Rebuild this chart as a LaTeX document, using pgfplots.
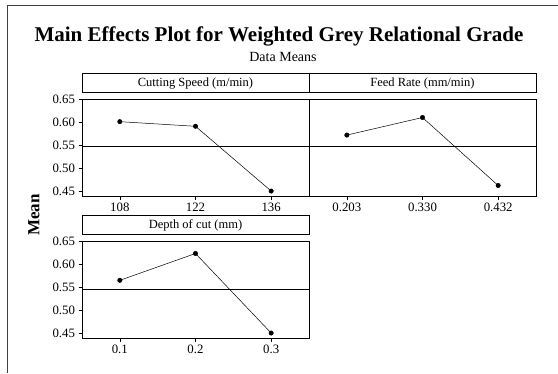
\documentclass[border=0pt]{standalone}
\usepackage{fontspec}
\setmainfont{Liberation Serif}
\usepackage{pgfplots}
\pgfplotsset{compat=1.18}

\pgfplotstableread{
x y
1 0.601
2 0.591
3 0.451
}\cuttingspeed
\pgfplotstableread{
x y
1 0.572
2 0.610
3 0.463
}\feedrate
\pgfplotstableread{
x y
1 0.565
2 0.623
3 0.451
}\depthofcut

\pgfplotsset{me/.style={
  scale only axis, width=227pt, height=97pt,
  xmin=0.5, xmax=3.5, ymin=0.4403, ymax=0.65,
  xtick={1,2,3}, ytick={0.45,0.50,0.55,0.60,0.65},
  tick align=outside, major tick length=3.5pt,
  tick style={black, line width=0.6pt},
  axis line style={line width=0.8pt},
  /pgf/number format/.cd, fixed, fixed zerofill, precision=2, assume math mode=true, /pgfplots/.cd,
  tick label style={font=\fontsize{12.8}{14}\selectfont},
  xtick pos=bottom, ytick pos=left,
  clip=false,
  anchor=south west,
  title style={draw, line width=0.8pt, minimum width=227pt, minimum height=19pt,
    inner sep=0pt, at={(0.5,1)}, anchor=south, yshift=0pt,
    font=\fontsize{12.5}{14}\selectfont},
}}

\begin{document}
\begin{tikzpicture}
\path[use as bounding box] (0pt,0pt) rectangle (558pt,373pt);
\draw[black!75, line width=1pt] (7.5pt,0pt) -- (7.5pt,367pt) -- (558pt,367pt);

\node[font=\bfseries\fontsize{21}{24}\selectfont] at (279pt,337pt) {Main Effects Plot for Weighted Grey Relational Grade};
\node[font=\fontsize{14}{16}\selectfont] at (283pt,316pt) {Data Means};
\node[font=\bfseries\fontsize{17}{19}\selectfont, rotate=90] at (34pt,158pt) {Mean};

\begin{axis}[me, at={(82pt,177pt)}, title={Cutting Speed (m/min)},
  xticklabels={108,122,136}]
  \addplot[black, line width=0.6pt] coordinates {(0.5,0.5477) (3.5,0.5477)};
  \addplot[black, line width=0.5pt, mark=*, mark size=2.2pt] table[x=x,y=y] {\cuttingspeed};
\end{axis}

\begin{axis}[me, at={(309pt,177pt)}, title={Feed Rate (mm/min)},
  xticklabels={0.203,0.330,0.432}, ytick=\empty]
  \addplot[black, line width=0.6pt] coordinates {(0.5,0.5483) (3.5,0.5483)};
  \addplot[black, line width=0.5pt, mark=*, mark size=2.2pt] table[x=x,y=y] {\feedrate};
\end{axis}

\begin{axis}[me, at={(82pt,35pt)}, title={Depth of cut (mm)},
  xticklabels={0.1,0.2,0.3}]
  \addplot[black, line width=0.6pt] coordinates {(0.5,0.5463) (3.5,0.5463)};
  \addplot[black, line width=0.5pt, mark=*, mark size=2.2pt] table[x=x,y=y] {\depthofcut};
\end{axis}
\end{tikzpicture}
\end{document}
